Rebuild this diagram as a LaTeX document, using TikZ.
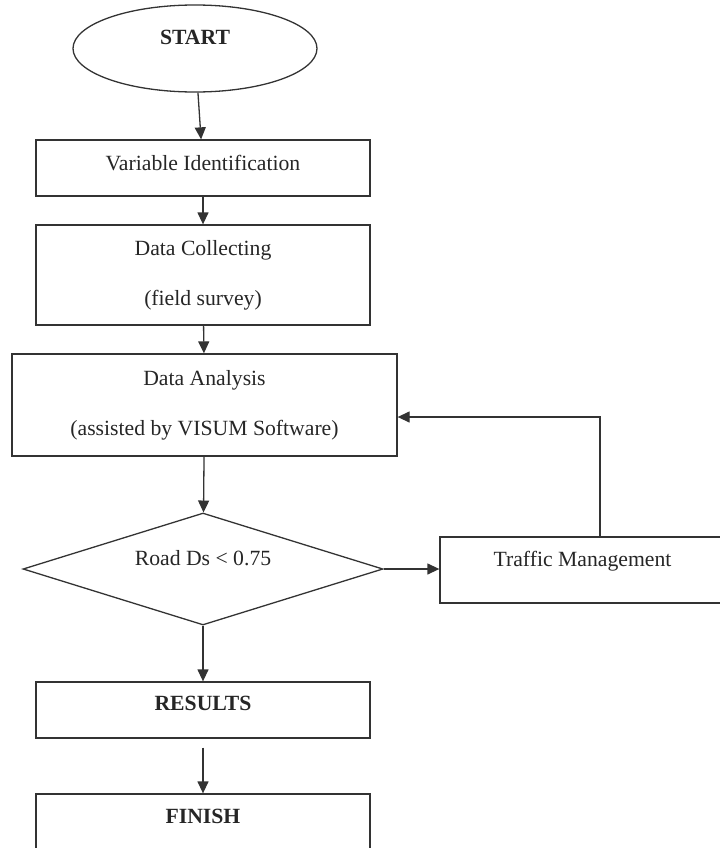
\documentclass[tikz,border=0pt]{standalone}
\usepackage{fontspec}
\setmainfont{Liberation Serif}
\usepackage{tikz}
\usetikzlibrary{arrows.meta,positioning,calc,shapes.geometric}
\tikzset{
    >={Triangle[length=12bp,width=11bp]},
    every picture/.style={line width=1.3bp},
    flowbox/.style={rectangle,draw=black!80,inner sep=0pt,align=center},
    terminal/.style={ellipse,draw=black!80,inner sep=0pt},
    decision/.style={diamond,draw=black!80,inner sep=0pt,aspect=3.2},
    lift/.style={text height=15bp,text depth=#1}
}

\begin{document}
\begin{tikzpicture}[x=1bp,y=1bp,
        every node/.style={font=\fontsize{21.7bp}{50bp}\selectfont,text=black!85}]

    \useasboundingbox (0,0) rectangle (720,-848);

    % Main column of the flow
    \node[terminal,lift=23bp,minimum width=244bp,minimum height=87bp] (start) at (195,-48.5) {\textbf{START}};
    \node[flowbox,lift=11bp,minimum width=334bp,minimum height=56bp] (ident) at (203,-168) {Variable Identification};
    \node[flowbox,minimum width=334bp,minimum height=100bp] (collect) at (203,-275) {Data Collecting\\(field survey)};
    \node[flowbox,minimum width=385bp,minimum height=102bp] (analysis) at (204.5,-405) {Data Analysis\\(assisted by VISUM Software)};
    \node[decision,lift=23bp,minimum width=360bp,minimum height=112bp] (check) at (203,-569) {Road Ds < 0.75};
    \node[flowbox,lift=15bp,minimum width=334bp,minimum height=56bp] (results) at (203,-710) {\textbf{RESULTS}};
    \node[flowbox,lift=13bp,minimum width=334bp,minimum height=56bp] (finish) at (203,-822) {\textbf{FINISH}};

    % Side branch
    \node[flowbox,lift=23bp,minimum width=285bp,minimum height=66bp] (traffic) at (582.5,-570) {Traffic Management};

    % Connectors
    \draw[->,black!80] (start) -- (ident);
    \draw[->,black!80] (ident) -- (collect);
    \draw[->,black!80] (collect) -- (analysis);
    \draw[->,black!80] (analysis) -- (check);
    \draw[->,black!80] (check) -- (results);
    \draw[->,black!80,shorten <=9bp] (results) -- (finish);
    \draw[->,black!80] (check.east) -- (check.east -| traffic.west);
    \draw[->,black!80] ([xshift=17.5bp]traffic.north) |- ([yshift=-12bp]analysis.east);
\end{tikzpicture}
\end{document}
